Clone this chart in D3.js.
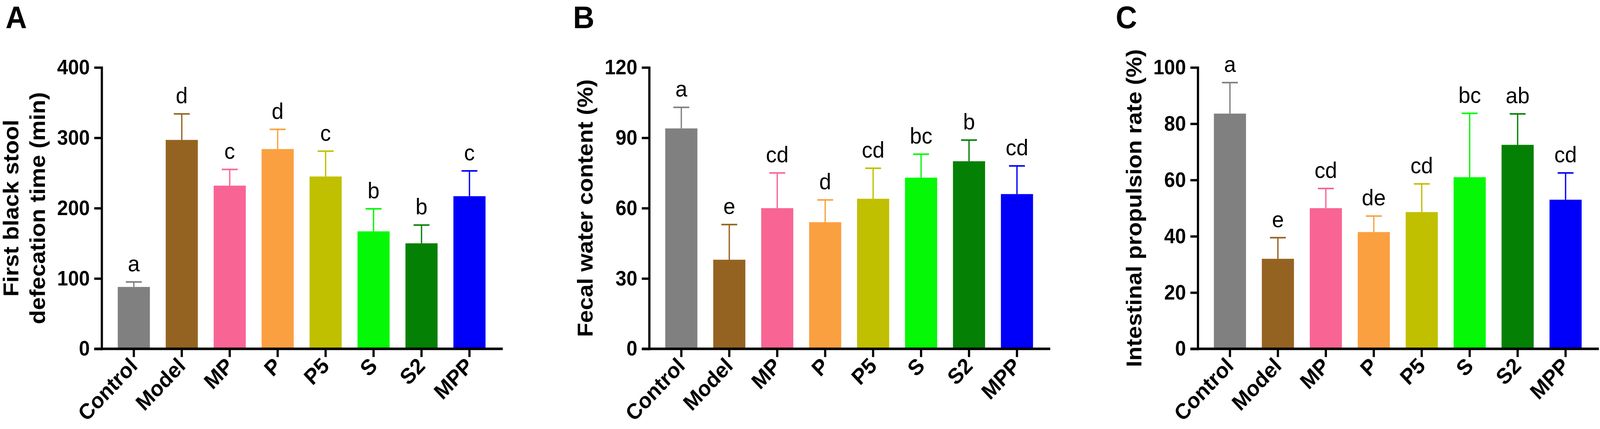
<!DOCTYPE html>
<html>
<head>
<meta charset="utf-8">
<script src="https://cdn.jsdelivr.net/npm/d3@7"></script>
<style>
    html, body { margin: 0; height: 100%; overflow: hidden; background: #fff; }
    svg { display: block; font-family: "Liberation Sans", Arial, sans-serif; }
    .axis text { font-weight: bold; fill: #000; }
    .axis line, .axis path { stroke: #000; }
    .axis-title { font-weight: bold; }
    .panel-label { font-weight: bold; }
</style>
</head>
<body>
<svg id="chart"></svg>
<script>
// groups shared by all three panels
const groups = ['Control', 'Model', 'MP', 'P', 'P5', 'S', 'S2', 'MPP'];
const groupColors = ['#808080', '#956321', '#f86594', '#fba040', '#c0c000', '#05f805', '#048004', '#0000fa'];

// A: first black stool defecation time (min)
const stoolTime = [88, 297, 232, 284, 245, 167, 150, 217];
const stoolTimeSd = [7, 37, 23, 28, 36, 32, 26, 36];
const stoolTimeLetters = ['a', 'd', 'c', 'd', 'c', 'b', 'b', 'c'];
const stoolTimeTicks = [0, 100, 200, 300, 400];

// B: fecal water content (%)
const waterContent = [94, 38, 60, 54, 64, 73, 80, 66];
const waterContentSd = [9, 15, 15, 9.5, 13, 10, 9, 12];
const waterContentLetters = ['a', 'e', 'cd', 'd', 'cd', 'bc', 'b', 'cd'];
const waterContentTicks = [0, 30, 60, 90, 120];

// C: intestinal propulsion rate (%)
const propulsionRate = [83.6, 32, 50, 41.5, 48.6, 61, 72.5, 53];
const propulsionRateSd = [11, 7.5, 7, 5.7, 10, 22.7, 11, 9.5];
const propulsionRateLetters = ['a', 'e', 'cd', 'de', 'cd', 'bc', 'ab', 'cd'];
const propulsionRateTicks = [0, 20, 40, 60, 80, 100];

class BarPanel {

    /**
     * @param _config {Object}
     */
    constructor(_config) {
        this.config = {
            parentElement: _config.parentElement,
            axisX: _config.axisX,
            top: _config.top || 172.5,
            bottom: _config.bottom || 892,
            step: _config.step || 129.7,
            label: _config.label,
            labelX: _config.labelX,
            titleLines: _config.titleLines,
            ticks: _config.ticks
        }
        this.means = _config.means;
        this.sds = _config.sds;
        this.letters = _config.letters;
        this.initVis();
    }

    initVis() {
        let vis = this;
        const c = vis.config;

        vis.g = d3.select(c.parentElement).append('g');

        // band starts so that the first tick sits 87px right of the y axis
        const firstTick = c.axisX + 87;
        vis.xScale = d3.scaleBand()
            .domain(groups)
            .range([firstTick - c.step / 2, firstTick - c.step / 2 + c.step * groups.length])
            .paddingInner(0.33)
            .paddingOuter(0.165);

        vis.yScale = d3.scaleLinear()
            .domain([0, d3.max(c.ticks)])
            .range([c.bottom, c.top]);

        vis.yAxis = d3.axisLeft(vis.yScale)
            .tickValues(c.ticks)
            .tickSize(20)
            .tickSizeOuter(0)
            .tickPadding(12)
            .tickFormat(d3.format('d'));

        vis.xAxis = d3.axisBottom(vis.xScale)
            .tickSize(21)
            .tickSizeOuter(0);

        // panel letter
        vis.g.append('text')
            .attr('class', 'panel-label')
            .attr('x', c.labelX)
            .attr('y', 72)
            .attr('font-size', 80)
            .text(c.label);

        // y axis title, rotated, last line closest to the axis
        const midY = (c.top + c.bottom) / 2;
        const nLines = c.titleLines.length;
        c.titleLines.forEach((line, i) => {
            vis.g.append('text')
                .attr('class', 'axis-title')
                .attr('transform', `translate(${c.axisX - 153 - (nLines - 1 - i) * 72},${midY}) rotate(-90)`)
                .attr('text-anchor', 'middle')
                .attr('font-size', 59)
                .text(line);
        });

        vis.updateVis();
    }

    updateVis() {
        let vis = this;
        vis.rows = groups.map((g, i) => ({
            group: g,
            mean: vis.means[i],
            sd: vis.sds[i],
            letter: vis.letters[i],
            color: groupColors[i]
        }));
        vis.renderVis();
    }

    renderVis() {
        let vis = this;
        const c = vis.config;
        const bw = vis.xScale.bandwidth();
        const capW = 43;

        // bars
        vis.g.selectAll('.bar')
            .data(vis.rows)
            .join('rect')
            .attr('class', 'bar')
            .attr('x', d => vis.xScale(d.group))
            .attr('width', bw)
            .attr('y', d => vis.yScale(d.mean))
            .attr('height', d => vis.yScale(0) - vis.yScale(d.mean))
            .attr('fill', d => d.color);

        // upper error bars
        vis.g.selectAll('.err-stem')
            .data(vis.rows)
            .join('line')
            .attr('class', 'err-stem')
            .attr('x1', d => vis.xScale(d.group) + bw / 2)
            .attr('x2', d => vis.xScale(d.group) + bw / 2)
            .attr('y1', d => vis.yScale(d.mean))
            .attr('y2', d => vis.yScale(d.mean + d.sd))
            .attr('stroke', d => d.color)
            .attr('stroke-width', 3.5);

        vis.g.selectAll('.err-cap')
            .data(vis.rows)
            .join('line')
            .attr('class', 'err-cap')
            .attr('x1', d => vis.xScale(d.group) + bw / 2 - capW / 2)
            .attr('x2', d => vis.xScale(d.group) + bw / 2 + capW / 2)
            .attr('y1', d => vis.yScale(d.mean + d.sd))
            .attr('y2', d => vis.yScale(d.mean + d.sd))
            .attr('stroke', d => d.color)
            .attr('stroke-width', 4);

        // significance letters
        vis.g.selectAll('.sig')
            .data(vis.rows)
            .join('text')
            .attr('class', 'sig')
            .attr('x', d => vis.xScale(d.group) + bw / 2)
            .attr('y', d => vis.yScale(d.mean + d.sd) - 27)
            .attr('text-anchor', 'middle')
            .attr('font-size', 58)
            .text(d => d.letter);

        // y axis
        vis.g.append('g')
            .attr('class', 'axis y-axis')
            .attr('transform', `translate(${c.axisX},0)`)
            .call(vis.yAxis)
            .call(g => g.selectAll('text').attr('font-size', 53).attr('font-family', null))
            .call(g => g.selectAll('line, path').attr('stroke-width', 6))
            .call(g => g.select('.domain').attr('stroke-linecap', 'square'));

        // x axis: draw own base line so it spans from the y tick ends to past the last bar
        const lastTick = vis.xScale(groups[groups.length - 1]) + bw / 2;
        vis.g.append('line')
            .attr('x1', c.axisX - 20)
            .attr('x2', lastTick + 90)
            .attr('y1', c.bottom)
            .attr('y2', c.bottom)
            .attr('stroke', '#000')
            .attr('stroke-width', 6.5);

        vis.g.append('g')
            .attr('class', 'axis x-axis')
            .attr('transform', `translate(0,${c.bottom})`)
            .call(vis.xAxis)
            .call(g => g.select('.domain').remove())
            .call(g => g.selectAll('line').attr('stroke-width', 6))
            .call(g => g.selectAll('text')
                .attr('font-size', 56)
                .attr('font-family', null)
                .attr('y', null)
                .attr('dy', null)
                .attr('text-anchor', 'end')
                .attr('transform', 'translate(13,47) rotate(-45)'));
    }
}

// stretch the 4328x1097 drawing over the whole viewport
const svg = d3.select('#chart')
    .attr('width', '100%')
    .attr('height', '100%')
    .attr('viewBox', '0 0 4328 1097')
    .attr('preserveAspectRatio', 'none');

new BarPanel({
    parentElement: '#chart',
    axisX: 275,
    label: 'A',
    labelX: 15,
    titleLines: ['First black stool', 'defecation time (min)'],
    ticks: stoolTimeTicks,
    means: stoolTime,
    sds: stoolTimeSd,
    letters: stoolTimeLetters
});

new BarPanel({
    parentElement: '#chart',
    axisX: 1756,
    label: 'B',
    labelX: 1550,
    titleLines: ['Fecal water content (%)'],
    ticks: waterContentTicks,
    means: waterContent,
    sds: waterContentSd,
    letters: waterContentLetters
});

new BarPanel({
    parentElement: '#chart',
    axisX: 3240,
    label: 'C',
    labelX: 3018,
    titleLines: ['Intestinal propulsion rate (%)'],
    ticks: propulsionRateTicks,
    means: propulsionRate,
    sds: propulsionRateSd,
    letters: propulsionRateLetters
});
</script>
</body>
</html>
